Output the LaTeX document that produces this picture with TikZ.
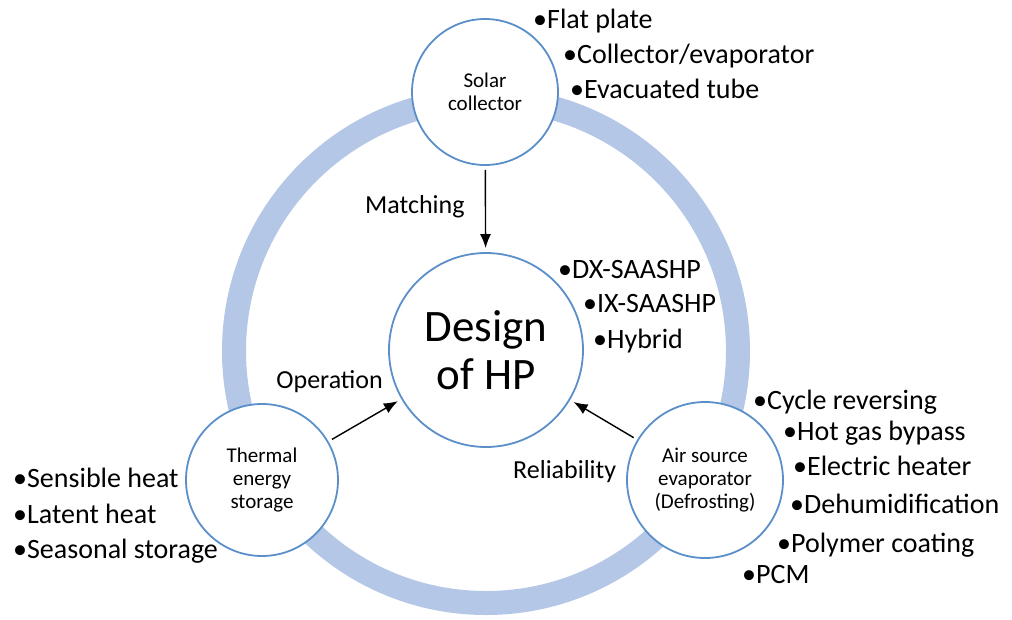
\documentclass[tikz,border=0pt]{standalone}
\usepackage{fontspec}
\setmainfont{Carlito}
\usepackage{xcolor}
\usepackage{tikz}
\usetikzlibrary{calc, arrows.meta, positioning}

\definecolor{ringblue}{RGB}{180,199,231}
\definecolor{edgeblue}{RGB}{91,143,201}

\begin{document}
\begin{tikzpicture}[>={Latex[length=14pt,width=11pt]}, x=1pt, y=-1pt,
    topic/.style={circle, draw=edgeblue, line width=1.8pt, fill=white,
        inner sep=0pt, align=center, font=\fontsize{21}{23}\selectfont},
    item/.style={anchor=base west, inner sep=0pt, font=\fontsize{28}{32}\selectfont},
    lbl/.style={inner sep=0pt, font=\fontsize{26}{30}\selectfont},
    link/.style={->, line width=1.4pt, shorten >=4pt, shorten <=4pt}]
    \useasboundingbox (0,0) rectangle (1012,619);

    % 1. Vòng tròn nền
    \draw[ringblue, line width=24pt] (486,351) circle[radius=252];

    % 2. Các nút chính
    \node[topic, minimum size=194pt, font=\fontsize{45}{48}\selectfont] (design) at (486,350) {Design\\of HP};
    \node[topic, minimum size=146pt] (solar) at (485,92) {Solar\\collector};
    \node[topic, minimum size=152pt] (thermal) at (262,480) {Thermal\\energy\\storage};
    \node[topic, minimum size=156pt] (air) at (705,480) {Air source\\evaporator\\(Defrosting)};

    % 3. Mũi tên và nhãn
    \draw[link] (solar) -- (design);
    \draw[link] (thermal) -- (design);
    \draw[link] (air) -- (design);
    \node[lbl, anchor=base west] (matching) at (365,213) {Matching};
    \node[lbl, anchor=base east] (operation) at (383,388) {Operation};
    \node[lbl, anchor=base west] (reliability) at (513,478) {Reliability};

    % 4. Các danh sách
    \foreach \x/\y/\t [count=\i] in {533/28/{Flat plate}, 563/63/{Collector/evaporator}, 570/98/{Evacuated tube}}
        \node[item] (sc\i) at (\x,\y) {•\t};
    \foreach \x/\y/\t [count=\i] in {558/278/{DX-SAASHP}, 583/312/{IX-SAASHP}, 593/348/{Hybrid}}
        \node[item] (hp\i) at (\x,\y) {•\t};
    \foreach \x/\y/\t [count=\i] in {13/487/{Sensible heat}, 13/523/{Latent heat}, 13/558/{Seasonal storage}}
        \node[item] (tes\i) at (\x,\y) {•\t};
    \foreach \x/\y/\t [count=\i] in {753/409/{Cycle reversing}, 783/440/{Hot gas bypass}, 793/475/{Electric heater},
        790/513/{Dehumidification}, 777/552/{Polymer coating}, 742/583/{PCM}}
        \node[item] (df\i) at (\x,\y) {•\t};
\end{tikzpicture}
\end{document}
